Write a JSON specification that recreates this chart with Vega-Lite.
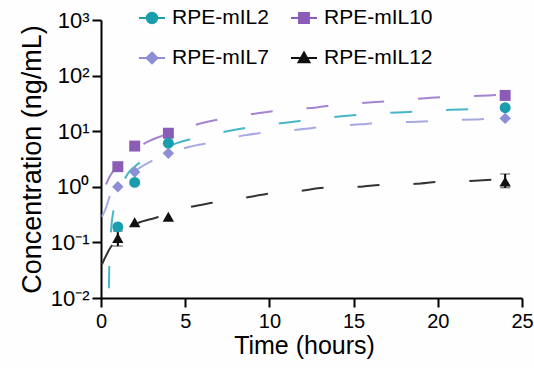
{
  "$schema": "https://vega.github.io/schema/vega-lite/v6.json",
  "width": 421,
  "height": 278,
  "autosize": {"type": "none"},
  "padding": {"left": 101, "top": 20, "right": 12, "bottom": 70},
  "background": "#fefefe",
  "config": {
    "font": "Liberation Sans",
    "view": {"stroke": null},
    "axis": {
      "grid": false,
      "domainColor": "#000",
      "domainWidth": 2,
      "tickColor": "#000",
      "tickWidth": 2,
      "tickSize": 9,
      "labelFont": "Liberation Sans",
      "labelFontSize": 20,
      "labelColor": "#000",
      "titleFont": "Liberation Sans",
      "titleFontSize": 25,
      "titleFontWeight": "normal",
      "titleColor": "#000"
    }
  },
  "datasets": {
    "pts": [
      {"series": "RPE-mIL2", "t": 1, "c": 0.19},
      {"series": "RPE-mIL2", "t": 2, "c": 1.2},
      {"series": "RPE-mIL2", "t": 4, "c": 6.1},
      {"series": "RPE-mIL2", "t": 24, "c": 26.5},
      {"series": "RPE-mIL10", "t": 1, "c": 2.3},
      {"series": "RPE-mIL10", "t": 2, "c": 5.4},
      {"series": "RPE-mIL10", "t": 4, "c": 9.2},
      {"series": "RPE-mIL10", "t": 24, "c": 44},
      {"series": "RPE-mIL7", "t": 1, "c": 1.0},
      {"series": "RPE-mIL7", "t": 2, "c": 1.85},
      {"series": "RPE-mIL7", "t": 4, "c": 4.0},
      {"series": "RPE-mIL7", "t": 24, "c": 17},
      {"series": "RPE-mIL12", "t": 1, "c": 0.12},
      {"series": "RPE-mIL12", "t": 2, "c": 0.23},
      {"series": "RPE-mIL12", "t": 4, "c": 0.29},
      {"series": "RPE-mIL12", "t": 24, "c": 1.24}
    ],
    "err": [
      {"series": "RPE-mIL12", "t": 1, "c": 0.086, "hi": 0.16},
      {"series": "RPE-mIL12", "t": 24, "c": 0.96, "hi": 1.7}
    ],
    "curves": [
      {"series": "RPE-mIL2", "t": 0.47, "c": 0.015},
      {"series": "RPE-mIL2", "t": 0.5, "c": 0.05},
      {"series": "RPE-mIL2", "t": 0.6, "c": 0.17},
      {"series": "RPE-mIL2", "t": 0.8, "c": 0.45},
      {"series": "RPE-mIL2", "t": 1.0, "c": 0.75},
      {"series": "RPE-mIL2", "t": 1.3, "c": 1.2},
      {"series": "RPE-mIL2", "t": 1.67, "c": 1.85},
      {"series": "RPE-mIL2", "t": 2.0, "c": 2.3},
      {"series": "RPE-mIL2", "t": 2.7, "c": 3.3},
      {"series": "RPE-mIL2", "t": 3.5, "c": 4.5},
      {"series": "RPE-mIL2", "t": 4.5, "c": 6.1},
      {"series": "RPE-mIL2", "t": 5.8, "c": 7.8},
      {"series": "RPE-mIL2", "t": 7.8, "c": 10.4},
      {"series": "RPE-mIL2", "t": 9.2, "c": 12.3},
      {"series": "RPE-mIL2", "t": 11.2, "c": 14.5},
      {"series": "RPE-mIL2", "t": 12.6, "c": 16.4},
      {"series": "RPE-mIL2", "t": 14.6, "c": 19},
      {"series": "RPE-mIL2", "t": 16, "c": 20.5},
      {"series": "RPE-mIL2", "t": 18, "c": 22},
      {"series": "RPE-mIL2", "t": 19.4, "c": 23.3},
      {"series": "RPE-mIL2", "t": 21.4, "c": 24.6},
      {"series": "RPE-mIL2", "t": 22.8, "c": 25.5},
      {"series": "RPE-mIL2", "t": 24, "c": 26.3},
      {"series": "RPE-mIL10", "t": 0.3, "c": 1.1},
      {"series": "RPE-mIL10", "t": 0.5, "c": 1.5},
      {"series": "RPE-mIL10", "t": 0.77, "c": 2.0},
      {"series": "RPE-mIL10", "t": 1.0, "c": 2.4},
      {"series": "RPE-mIL10", "t": 1.5, "c": 3.5},
      {"series": "RPE-mIL10", "t": 2.0, "c": 4.6},
      {"series": "RPE-mIL10", "t": 2.7, "c": 6.3},
      {"series": "RPE-mIL10", "t": 3.75, "c": 8.5},
      {"series": "RPE-mIL10", "t": 5.0, "c": 11.5},
      {"series": "RPE-mIL10", "t": 5.95, "c": 13.9},
      {"series": "RPE-mIL10", "t": 7.3, "c": 17},
      {"series": "RPE-mIL10", "t": 9.3, "c": 21},
      {"series": "RPE-mIL10", "t": 10.7, "c": 23.7},
      {"series": "RPE-mIL10", "t": 12.8, "c": 26.8},
      {"series": "RPE-mIL10", "t": 14.1, "c": 30},
      {"series": "RPE-mIL10", "t": 16.1, "c": 33},
      {"series": "RPE-mIL10", "t": 17.6, "c": 35.7},
      {"series": "RPE-mIL10", "t": 19.6, "c": 40},
      {"series": "RPE-mIL10", "t": 21, "c": 42},
      {"series": "RPE-mIL10", "t": 23, "c": 44},
      {"series": "RPE-mIL10", "t": 24, "c": 45.5},
      {"series": "RPE-mIL7", "t": 0.06, "c": 0.29},
      {"series": "RPE-mIL7", "t": 0.3, "c": 0.42},
      {"series": "RPE-mIL7", "t": 0.5, "c": 0.65},
      {"series": "RPE-mIL7", "t": 0.77, "c": 0.88},
      {"series": "RPE-mIL7", "t": 1.0, "c": 1.0},
      {"series": "RPE-mIL7", "t": 1.5, "c": 1.4},
      {"series": "RPE-mIL7", "t": 2.0, "c": 1.9},
      {"series": "RPE-mIL7", "t": 3.0, "c": 2.9},
      {"series": "RPE-mIL7", "t": 4.0, "c": 3.9},
      {"series": "RPE-mIL7", "t": 5.2, "c": 5.2},
      {"series": "RPE-mIL7", "t": 6.6, "c": 6.3},
      {"series": "RPE-mIL7", "t": 8.6, "c": 8.5},
      {"series": "RPE-mIL7", "t": 9.9, "c": 9.6},
      {"series": "RPE-mIL7", "t": 12, "c": 10.9},
      {"series": "RPE-mIL7", "t": 13, "c": 11.8},
      {"series": "RPE-mIL7", "t": 15.4, "c": 13.3},
      {"series": "RPE-mIL7", "t": 16.7, "c": 14.3},
      {"series": "RPE-mIL7", "t": 18.8, "c": 14.8},
      {"series": "RPE-mIL7", "t": 20.2, "c": 15.6},
      {"series": "RPE-mIL7", "t": 22.3, "c": 16.3},
      {"series": "RPE-mIL7", "t": 24, "c": 17.2},
      {"series": "RPE-mIL12", "t": 0.05, "c": 0.04},
      {"series": "RPE-mIL12", "t": 0.5, "c": 0.075},
      {"series": "RPE-mIL12", "t": 1.0, "c": 0.12},
      {"series": "RPE-mIL12", "t": 1.5, "c": 0.17},
      {"series": "RPE-mIL12", "t": 2.0, "c": 0.21},
      {"series": "RPE-mIL12", "t": 3.3, "c": 0.28},
      {"series": "RPE-mIL12", "t": 5.1, "c": 0.42},
      {"series": "RPE-mIL12", "t": 6.5, "c": 0.51},
      {"series": "RPE-mIL12", "t": 8.5, "c": 0.63},
      {"series": "RPE-mIL12", "t": 9.9, "c": 0.75},
      {"series": "RPE-mIL12", "t": 11.9, "c": 0.85},
      {"series": "RPE-mIL12", "t": 13.2, "c": 0.96},
      {"series": "RPE-mIL12", "t": 15.3, "c": 1.0},
      {"series": "RPE-mIL12", "t": 16.7, "c": 1.09},
      {"series": "RPE-mIL12", "t": 18.7, "c": 1.13},
      {"series": "RPE-mIL12", "t": 20.1, "c": 1.23},
      {"series": "RPE-mIL12", "t": 22.2, "c": 1.28},
      {"series": "RPE-mIL12", "t": 24, "c": 1.4}
    ]
  },
  "encoding": {
    "x": {
      "field": "t",
      "type": "quantitative",
      "scale": {"domain": [0, 25]},
      "axis": {"title": "Time (hours)", "titleX": 203, "titleAlign": "center", "values": [0, 5, 10, 15, 20, 25], "labelPadding": 4, "titlePadding": 2, "labelFlush": false}
    },
    "y": {
      "field": "c",
      "type": "quantitative",
      "scale": {"type": "log", "domain": [0.01, 1000]},
      "axis": {
        "title": "Concentration (ng/mL)",
        "titleFontSize": 27,
        "labelFontSize": 22,
        "values": [0.01, 0.1, 1, 10, 100, 1000],
        "labelExpr": "'10' + ['⁻²','⁻¹','⁰','¹','²','³'][round(log(datum.value)/LN10)+2]",
        "labelPadding": 3,
        "titlePadding": 4,
        "labelFlush": false
      }
    }
  },
  "layer": [
    {
      "data": {"name": "curves"},
      "transform": [{"filter": {"field": "series", "equal": "RPE-mIL2"}}],
      "mark": {"type": "line", "strokeWidth": 2, "strokeDash": [22, 34], "interpolate": "monotone", "color": "#45b8c6"}
    },
    {
      "data": {"name": "curves"},
      "transform": [{"filter": {"field": "series", "equal": "RPE-mIL10"}}],
      "mark": {"type": "line", "strokeWidth": 2, "strokeDash": [22, 34], "interpolate": "monotone", "color": "#a484cf"}
    },
    {
      "data": {"name": "curves"},
      "transform": [{"filter": {"field": "series", "equal": "RPE-mIL7"}}],
      "mark": {"type": "line", "strokeWidth": 2, "strokeDash": [22, 34], "interpolate": "monotone", "color": "#a7a9e2"}
    },
    {
      "data": {"name": "curves"},
      "transform": [{"filter": {"field": "series", "equal": "RPE-mIL12"}}],
      "mark": {"type": "line", "strokeWidth": 2, "strokeDash": [22, 34], "interpolate": "monotone", "color": "#333333"}
    },
    {
      "data": {"name": "err"},
      "mark": {"type": "errorbar", "ticks": {"size": 10, "color": "#000", "strokeWidth": 2}, "rule": {"color": "#000", "strokeWidth": 2}},
      "encoding": {
        "y2": {"field": "hi"}
      }
    },
    {
      "data": {"name": "pts"},
      "transform": [{"filter": {"field": "series", "equal": "RPE-mIL10"}}],
      "mark": {"type": "point", "shape": "square", "filled": true, "opacity": 1, "color": "#8a5cb6", "size": 120}
    },
    {
      "data": {"name": "pts"},
      "transform": [{"filter": {"field": "series", "equal": "RPE-mIL7"}}],
      "mark": {"type": "point", "shape": "diamond", "filled": true, "opacity": 1, "color": "#8c8fd6", "size": 130}
    },
    {
      "data": {"name": "pts"},
      "transform": [{"filter": {"field": "series", "equal": "RPE-mIL2"}}],
      "mark": {"type": "point", "shape": "circle", "filled": true, "opacity": 1, "color": "#1a9dac", "size": 120}
    },
    {
      "data": {"name": "pts"},
      "transform": [{"filter": {"field": "series", "equal": "RPE-mIL12"}}],
      "mark": {"type": "point", "shape": "triangle-up", "filled": true, "opacity": 1, "color": "#111111", "size": 130}
    },
    {
      "data": {"name": "pts"},
      "mark": {"type": "point", "filled": true, "opacity": 0},
      "encoding": {
        "color": {
          "field": "series",
          "type": "nominal",
          "scale": {"domain": ["RPE-mIL2", "RPE-mIL7", "RPE-mIL10", "RPE-mIL12"], "range": ["#1a9dac", "#8c8fd6", "#8a5cb6", "#111111"]},
          "legend": {
            "orient": "none", "legendX": 37, "legendY": -16, "columns": 2, "columnPadding": 18, "rowPadding": 16,
            "title": null, "labelFontSize": 21, "labelFont": "Liberation Sans", "labelColor": "#000", "labelOffset": 6,
            "symbolSize": 676, "symbolOpacity": 1, "symbolStrokeWidth": 2, "padding": 0, "labelLimit": 300,
            "encode": {"symbols": {"update": {"stroke": {"scale": "color", "field": "value"}, "fill": {"scale": "color", "field": "value"}, "opacity": {"value": 1}, "strokeWidth": {"value": 2}}}}
          }
        },
        "shape": {
          "field": "series",
          "type": "nominal",
          "scale": {"domain": ["RPE-mIL2", "RPE-mIL7", "RPE-mIL10", "RPE-mIL12"], "range": [
            "M-1,0H1M-0.4,0A0.4,0.4,0,1,0,0.4,0A0.4,0.4,0,1,0,-0.4,0Z",
            "M-1,0H1M0,-0.42L0.42,0L0,0.42L-0.42,0Z",
            "M-1,0H1M-0.38,-0.38H0.38V0.38H-0.38Z",
            "M-1,0H1M0,-0.42L0.42,0.32H-0.42Z"
          ]},
          "legend": {
            "orient": "none", "legendX": 37, "legendY": -16, "columns": 2, "columnPadding": 18, "rowPadding": 16,
            "title": null, "labelFontSize": 21, "labelFont": "Liberation Sans", "labelColor": "#000", "labelOffset": 6,
            "symbolSize": 676, "symbolOpacity": 1, "symbolStrokeWidth": 2, "padding": 0, "labelLimit": 300,
            "encode": {"symbols": {"update": {"stroke": {"scale": "color", "field": "value"}, "fill": {"scale": "color", "field": "value"}, "opacity": {"value": 1}, "strokeWidth": {"value": 2}}}}
          }
        }
      }
    }
  ]
}
